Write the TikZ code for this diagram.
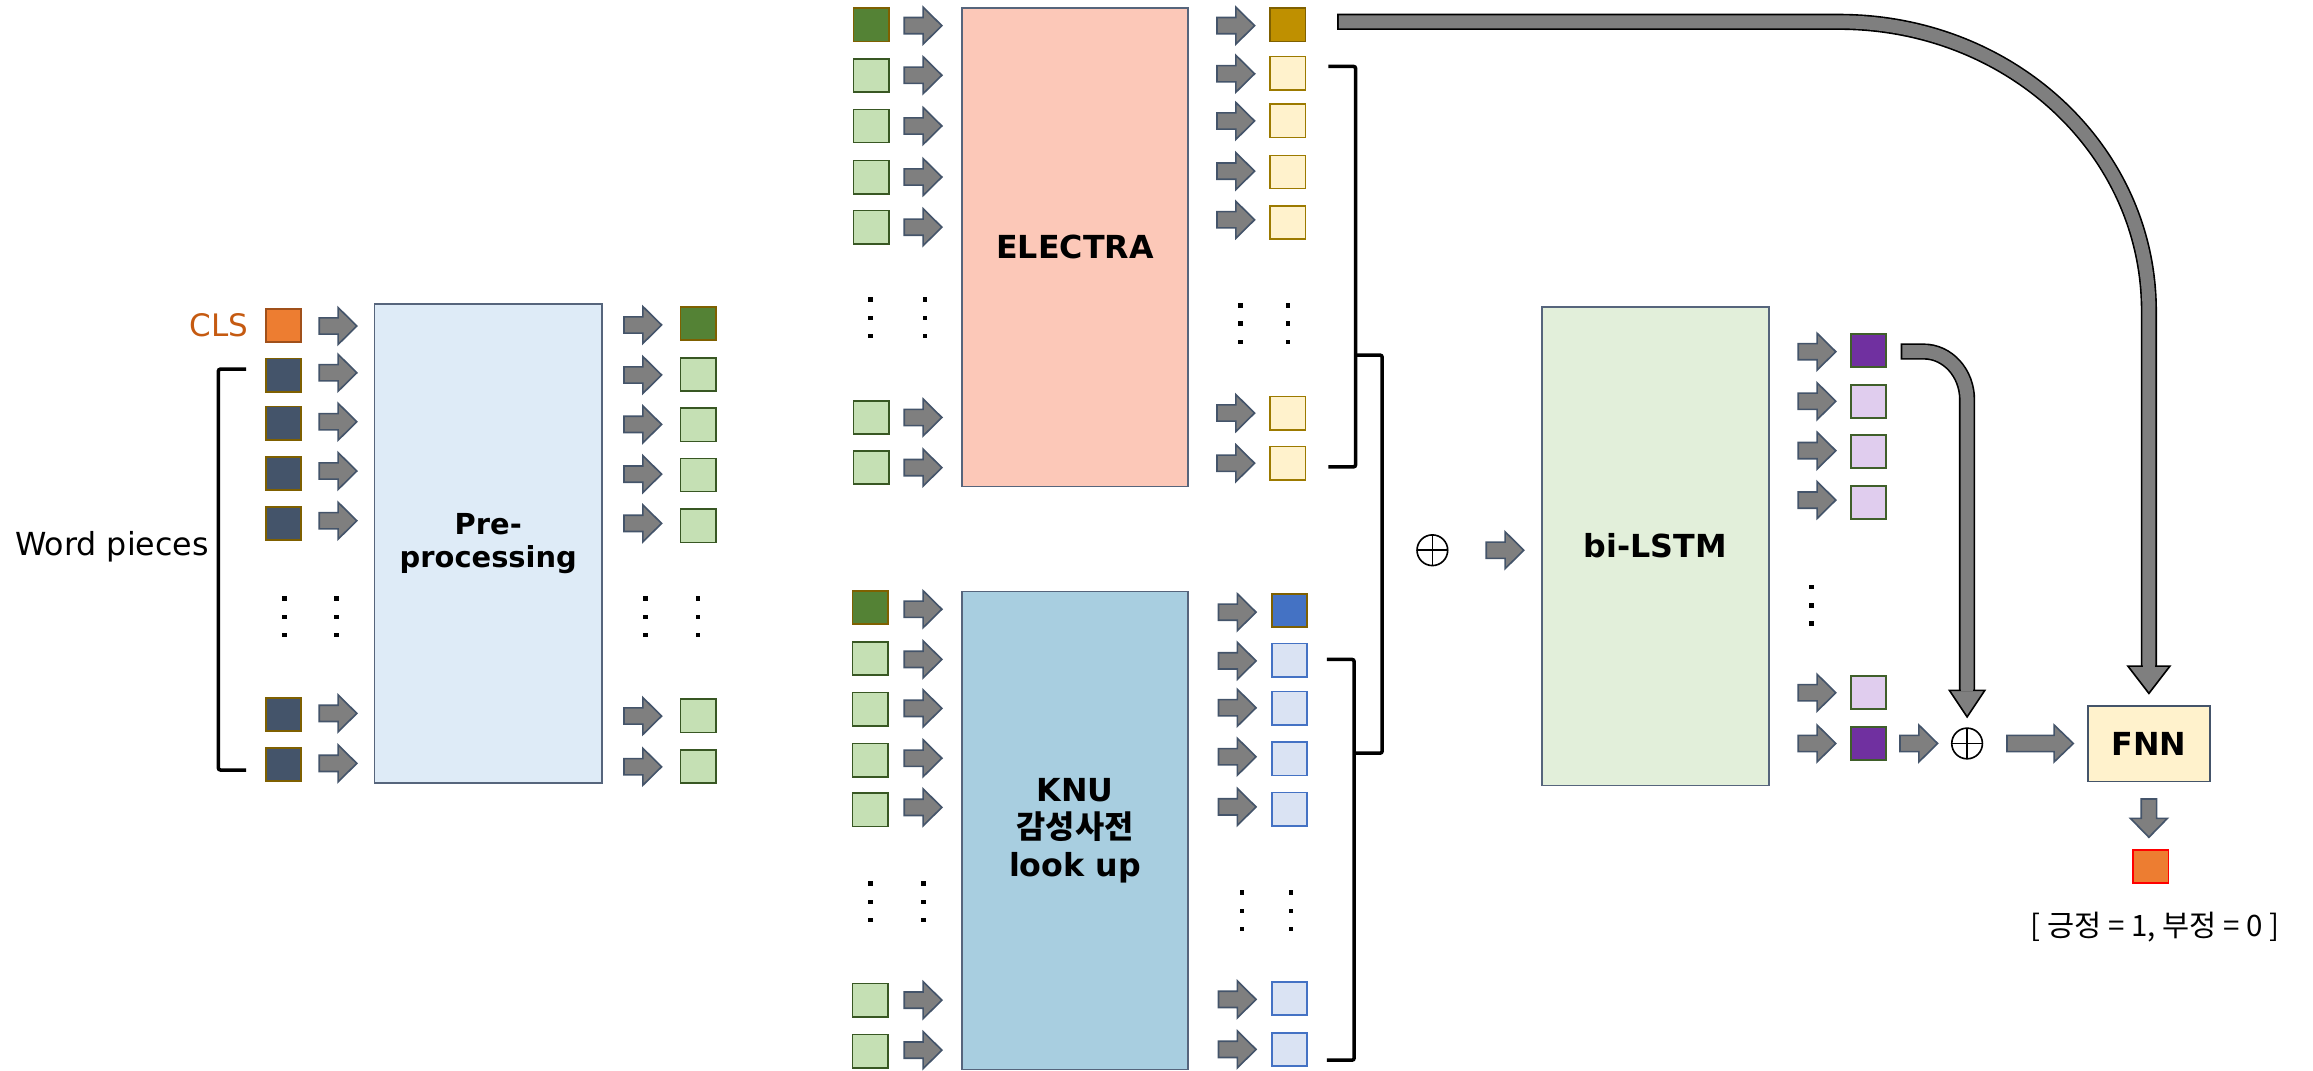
\documentclass[tikz,border=0pt]{standalone}
\usepackage{fontspec}
\setmainfont{DejaVu Sans}
\newfontfamily\kr{Noto Sans CJK KR}
\usetikzlibrary{calc}
\definecolor{arrgray}{HTML}{7F7F7F}
\definecolor{arrblue}{HTML}{44546A}
\definecolor{slate}{HTML}{44546A}
\definecolor{brownb}{HTML}{7F6000}
\definecolor{clsfill}{HTML}{ED7D31}
\definecolor{clsborder}{HTML}{A0501A}
\definecolor{clstext}{HTML}{C55A11}
\definecolor{gdark}{HTML}{548235}
\definecolor{glight}{HTML}{C5E0B4}
\definecolor{gborder}{HTML}{385723}
\definecolor{golddark}{HTML}{BF9000}
\definecolor{ylight}{HTML}{FFF2CC}
\definecolor{yborder}{HTML}{9C7A00}
\definecolor{bdark}{HTML}{4472C4}
\definecolor{blight}{HTML}{DAE3F3}
\definecolor{pdark}{HTML}{7030A0}
\definecolor{plight}{HTML}{E0CDEE}
\definecolor{pborder}{HTML}{3F5F2A}
\definecolor{prefill}{HTML}{DEEBF7}
\definecolor{elfill}{HTML}{FCC8B8}
\definecolor{knufill}{HTML}{A8CEE0}
\definecolor{lstmfill}{HTML}{E2EFDA}
\definecolor{boxline}{HTML}{56657C}
\begin{document}
\begin{tikzpicture}[x=1pt,y=-1pt,
  cell/.style={draw, line width=1.2pt, minimum width=23.9pt, minimum height=22.5pt, inner sep=0pt, outer sep=0pt},
  clscell/.style={cell, fill=clsfill, draw=clsborder},
  wcell/.style={cell, fill=slate, draw=brownb},
  gdcell/.style={cell, fill=gdark, draw=brownb},
  glcell/.style={cell, fill=glight, draw=gborder},
  ydcell/.style={cell, fill=golddark, draw=brownb},
  ylcell/.style={cell, fill=ylight, draw=yborder},
  bdcell/.style={cell, fill=bdark, draw=brownb},
  blcell/.style={cell, fill=blight, draw=bdark},
  pdcell/.style={cell, fill=pdark, draw=pborder},
  plcell/.style={cell, fill=plight, draw=pborder},
  rescell/.style={cell, fill=clsfill, draw=red},
  bigbox/.style={draw=boxline, line width=1.1pt, inner sep=0pt, outer sep=0pt, align=center},
  lbl/.style={font=\bfseries\fontsize{21.5}{25.6}\selectfont},
  arrline/.style={fill=arrgray, draw=arrblue, line width=1.1pt, line join=miter},
  rarr/.pic={\draw[arrline] (0,-5.5) -- (12.8,-5.5) -- (12.8,-12.5) -- (25.5,0) -- (12.8,12.5) -- (12.8,5.5) -- (0,5.5) -- cycle;},
  rarrlong/.pic={\draw[arrline] (0,-5.5) -- (32,-5.5) -- (32,-12.5) -- (45,0) -- (32,12.5) -- (32,5.5) -- (0,5.5) -- cycle;},
  darr/.pic={\draw[arrline] (-5.2,0) -- (-5.2,13.2) -- (-12.5,13.2) -- (0,26) -- (12.5,13.2) -- (5.2,13.2) -- (5.2,0) -- cycle;},
  oplus/.style={circle, draw, line width=1.1pt, minimum size=20.8pt, inner sep=0pt, outer sep=0pt,
    path picture={\draw[line width=1.1pt] (path picture bounding box.north) -- (path picture bounding box.south)
      (path picture bounding box.west) -- (path picture bounding box.east);}},
  brk/.style={line width=2.4pt, rounded corners=1.5pt},
  dot/.style={fill=black}
]
\useasboundingbox (0,0) rectangle (1568,726);

% ---------- Pre-processing column ----------
\node[anchor=east, inner sep=0pt, text=clstext, font=\fontsize{21}{24}\selectfont] (clslbl) at (168.5,220.3) {CLS};
\node[inner sep=0pt, font=\fontsize{21.5}{24}\selectfont] (wp) at (76,370.6) {Word pieces};
\node[clscell] (w0) at (192.1,220.8) {};
\foreach \y [count=\i] in {254.3,286.8,321,355,484.2,518.3} \node[wcell] (w\i) at (192.1,\y) {};
\foreach \y in {221,252.7,285.9,319.3,353,483.6,517.5} \pic at (216.4,\y) {rarr};
\node[bigbox, fill=prefill, minimum width=154.2pt, minimum height=324.9pt,
  font=\bfseries\fontsize{19.6}{22.6}\selectfont] (pre) at (331,368.5) {Pre-\\processing};
\foreach \y in {220.3,254.2,287.7,321.4,354.8,485.4,519.8} \pic at (423,\y) {rarr};
\node[gdcell] (p0) at (473.3,219.3) {};
\foreach \y [count=\i] in {253.7,288,322,356.5,485.3,519.7} \node[glcell] (p\i) at (473.3,\y) {};
\draw[brk] (166.8,250.2) -- (148,250.2) -- (148,522) -- (166.8,522);

% ---------- ELECTRA ----------
\node[gdcell] (ei0) at (590.5,16.9) {};
\foreach \y [count=\i] in {51,85.4,120,154,283,317} \node[glcell] (ei\i) at (590.5,\y) {};
\foreach \y in {17.4,51,85.4,120,154,283,317} \pic at (613,\y) {rarr};
\node[bigbox, fill=elfill, minimum width=153.4pt, minimum height=324.3pt, lbl] (electra) at (728.75,167.7) {ELECTRA};
\foreach \y in {17.4,50,82,116,149,280,314} \pic at (825,\y) {rarr};
\node[ydcell] (eo0) at (873,16.9) {};
\foreach \y [count=\i] in {49.6,82,116.6,151,280,314} \node[ylcell] (eo\i) at (873,\y) {};
\draw[brk] (900.5,45) -- (919,45) -- (919,316.5) -- (900.5,316.5);

% ---------- KNU ----------
\node[gdcell] (ki0) at (589.8,412) {};
\foreach \y [count=\i] in {446.4,480.7,515.3,549,678,712.6} \node[glcell] (ki\i) at (589.8,\y) {};
\foreach \y in {413,447,480.2,514,547.3,678,711.9} \pic at (613,\y) {rarr};
\node[bigbox, fill=knufill, minimum width=153.4pt, minimum height=323.8pt, lbl] (knu) at (728.75,563) {KNU\\{\kr 감성사전}\\look up};
\foreach \y in {415,448,479.8,513,547,677.5,711.4} \pic at (826,\y) {rarr};
\node[bdcell] (ko0) at (874.3,414) {};
\foreach \y [count=\i] in {447.5,480,514.4,548.5,677,711.5} \node[blcell] (ko\i) at (874.3,\y) {};
\draw[brk] (899.5,447) -- (918,447) -- (918,718.7) -- (899.5,718.7);

% outer bracket
\draw[brk] (918,240.7) -- (937,240.7) -- (937,510.6) -- (918,510.6);

% ---------- dots ----------
\foreach \x/\y in {193/405.7,228/405.7,437.6/405.7,473/405.7,590/203,627/203,841/207,873/207,590/599,626/599,842/605,875/605,1228/398}
  \foreach \k in {0,1,2} \fill[dot] (\x-1.5,\y+\k*12.4-1.5) rectangle ++(3,3);

% ---------- bi-LSTM ----------
\node[oplus] (op1) at (971,373) {};
\pic at (1007.5,373) {rarr};
\node[bigbox, fill=lstmfill, minimum width=153.8pt, minimum height=324.4pt, lbl] (lstm) at (1122.2,370.2) {bi-LSTM};
\foreach \y in {238.4,272,305.5,339,469.6,504} \pic at (1219,\y) {rarr};
\node[pdcell] (b0) at (1266.5,237.6) {};
\foreach \y [count=\i] in {272,306,340.7,469.6} \node[plcell] (b\i) at (1266.5,\y) {};
\node[pdcell] (b5) at (1266.5,504) {};

% ---------- output ----------
\pic at (1288,504) {rarr};
\node[oplus] (op2) at (1333.5,504) {};
\pic at (1360.5,504) {rarrlong};
\node[bigbox, fill=ylight, draw=slate, minimum width=82.4pt, minimum height=51.3pt, lbl] (fnn) at (1456.75,504.2) {FNN};
\pic at (1456.75,541.6) {darr};
\node[rescell] (res) at (1458,587.5) {};
\node[font=\kr\fontsize{20}{24}\selectfont] (lab) at (1461,628.5) {[ 긍정 = 1, 부정 = 0 ]};

% ---------- big curved arrow: ELECTRA CLS -> FNN ----------
\coordinate (s1) at ($(eo0.east)+(21.5,-2.1)$);
\coordinate (t1) at ($(fnn.north)+(0,-8.5)$);
\coordinate (c1) at (s1 -| t1);
\draw[black, line width=11pt] (s1) -- ($(c1)+(-210,0)$) .. controls ($(c1)+(-94,0)$) and ($(c1)+(0,86.9)$) .. ($(c1)+(0,196)$) -- ($(t1)+(0,-18.5)$);
\draw[arrgray, line width=8.8pt, shorten <=1.1pt] (s1) -- ($(c1)+(-210,0)$) .. controls ($(c1)+(-94,0)$) and ($(c1)+(0,86.9)$) .. ($(c1)+(0,196)$) -- ($(t1)+(0,-18.5)$);
\filldraw[fill=arrgray, draw=black, line width=1.1pt, line join=miter] ($(t1)+(-14.25,-18.5)$) -- ($(t1)+(14.25,-18.5)$) -- (t1) -- cycle;
\fill[arrgray] ($(t1)+(-4.3,-21)$) rectangle ($(t1)+(4.3,-17.8)$);

% ---------- curved arrow: first bi-LSTM output -> oplus ----------
\coordinate (s2) at ($(b0.east)+(10,0.7)$);
\coordinate (t2) at ($(op2.north)+(0,-7.6)$);
\coordinate (c2) at (s2 -| t2);
\draw[black, line width=11pt] (s2) -- ($(c2)+(-29.4,0)$) .. controls ($(c2)+(-13.2,0)$) and ($(c2)+(0,14.6)$) .. ($(c2)+(0,32.7)$) -- ($(t2)+(0,-18)$);
\draw[arrgray, line width=8.8pt, shorten <=1.1pt] (s2) -- ($(c2)+(-29.4,0)$) .. controls ($(c2)+(-13.2,0)$) and ($(c2)+(0,14.6)$) .. ($(c2)+(0,32.7)$) -- ($(t2)+(0,-18)$);
\filldraw[fill=arrgray, draw=black, line width=1.1pt, line join=miter] ($(t2)+(-12,-18)$) -- ($(t2)+(12,-18)$) -- (t2) -- cycle;
\fill[arrgray] ($(t2)+(-4.3,-20.5)$) rectangle ($(t2)+(4.3,-17.3)$);
\end{tikzpicture}
\end{document}
